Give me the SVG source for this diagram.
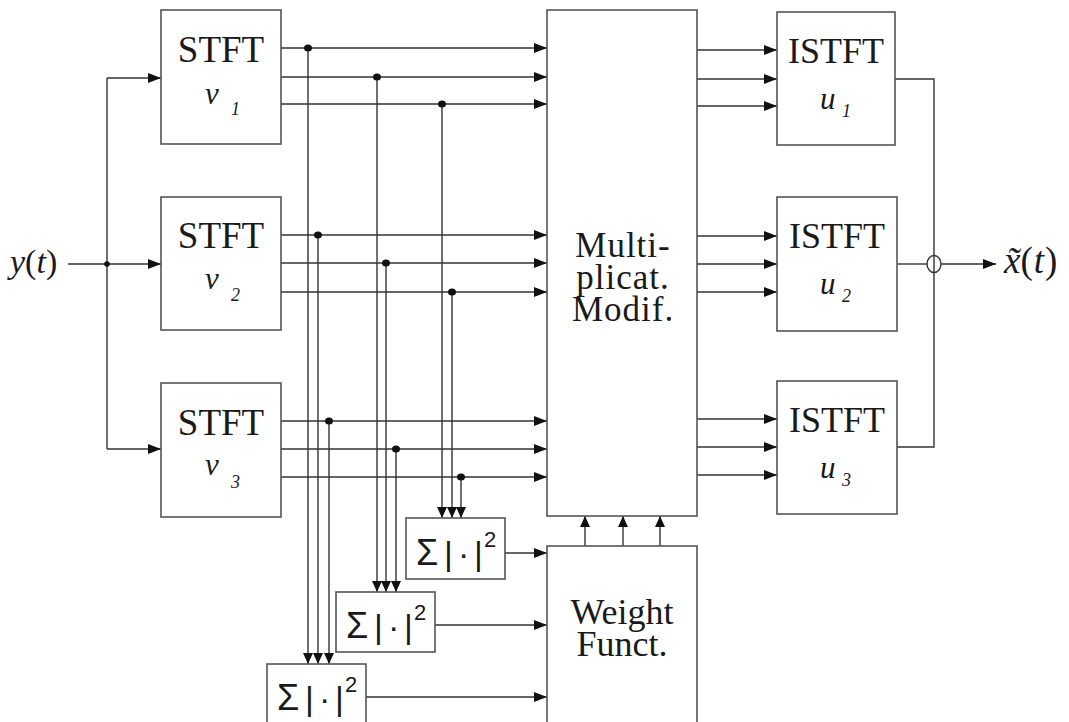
<svg xmlns="http://www.w3.org/2000/svg" width="1069" height="722" viewBox="0 0 1069 722">
<style>
.box{fill:#fff;stroke:#555;stroke-width:1.6}
.ln{fill:none;stroke:#333;stroke-width:1.4}
.ar{fill:none;stroke:#333;stroke-width:1.4;marker-end:url(#ah)}
.ad{fill:none;stroke:#333;stroke-width:1.4;marker-end:url(#ad)}
.dot{fill:#111}
.t{font-family:"Liberation Serif","Times New Roman",serif;fill:#1a1a1a}
.big{font-size:37px}
.mm{font-size:35px;letter-spacing:1px}
.it{font-style:italic}
.s{font-family:"Liberation Sans",Arial,sans-serif;fill:#1a1a1a;font-size:34px}
</style>
<defs>
<marker id="ah" markerUnits="userSpaceOnUse" markerWidth="14" markerHeight="12" refX="13" refY="5" orient="auto"><path d="M0,0 L13,5 L0,10 z" fill="#111"/></marker>
<marker id="ad" markerUnits="userSpaceOnUse" markerWidth="12" markerHeight="12" refX="11" refY="5" orient="auto"><path d="M0,0 L11,5 L0,10 z" fill="#111"/></marker>
</defs>

<g id="connectors">
<path class="ln" d="M68,264 H107"/>
<path class="ar" d="M107,264 H161"/>
<path class="ln" d="M107,78 V449"/>
<path class="ar" d="M107,78 H161"/>
<path class="ar" d="M107,449 H161"/>
<circle class="dot" cx="107" cy="264" r="2.8"/>
<path class="ar" d="M281,48 H547"/>
<path class="ar" d="M281,77 H547"/>
<path class="ar" d="M281,104 H547"/>
<path class="ar" d="M281,235 H547"/>
<path class="ar" d="M281,263 H547"/>
<path class="ar" d="M281,292 H547"/>
<path class="ar" d="M281,421 H547"/>
<path class="ar" d="M281,449 H547"/>
<path class="ar" d="M281,477 H547"/>
<path class="ad" d="M308,48 V664"/>
<path class="ad" d="M318,235 V664"/>
<path class="ad" d="M329,421 V664"/>
<path class="ad" d="M377,77 V592"/>
<path class="ad" d="M386,263 V592"/>
<path class="ad" d="M396,449 V592"/>
<path class="ad" d="M442,104 V518"/>
<path class="ad" d="M452,292 V518"/>
<path class="ad" d="M461,477 V518"/>
<ellipse class="dot" cx="308" cy="48" rx="4" ry="3.6"/>
<ellipse class="dot" cx="318" cy="235" rx="4" ry="3.6"/>
<ellipse class="dot" cx="329" cy="421" rx="4" ry="3.6"/>
<ellipse class="dot" cx="377" cy="77" rx="4" ry="3.6"/>
<ellipse class="dot" cx="386" cy="263" rx="4" ry="3.6"/>
<ellipse class="dot" cx="396" cy="449" rx="4" ry="3.6"/>
<ellipse class="dot" cx="442" cy="104" rx="4" ry="3.6"/>
<ellipse class="dot" cx="452" cy="292" rx="4" ry="3.6"/>
<ellipse class="dot" cx="461" cy="477" rx="4" ry="3.6"/>
<path class="ar" d="M505,553 H547"/>
<path class="ar" d="M435,625 H547"/>
<path class="ar" d="M366,697 H547"/>
<path class="ad" d="M585,546 V516"/>
<path class="ad" d="M623,546 V516"/>
<path class="ad" d="M660,546 V516"/>
<path class="ar" d="M697,50 H777"/>
<path class="ar" d="M697,79 H777"/>
<path class="ar" d="M697,106 H777"/>
<path class="ar" d="M697,236 H777"/>
<path class="ar" d="M697,264 H777"/>
<path class="ar" d="M697,292 H777"/>
<path class="ar" d="M697,419 H777"/>
<path class="ar" d="M697,447 H777"/>
<path class="ar" d="M697,475 H777"/>
<path class="ln" d="M895,79 H934 V447 H897"/>
<path class="ln" d="M897,264 H927"/>
<ellipse cx="934" cy="264" rx="7" ry="8.5" fill="none" stroke="#333" stroke-width="1.4"/>
<path class="ar" d="M941,264 H996"/>
</g>

<g id="input-label"><text class="t it" x="10" y="273" font-size="34">y<tspan font-style="normal">(</tspan>t<tspan font-style="normal">)</tspan></text></g>
<g id="output-label"><text class="t" x="1004" y="273" font-size="37"><tspan font-style="italic">x̃</tspan><tspan letter-spacing="1">(</tspan><tspan font-style="italic" letter-spacing="1">t</tspan>)</text></g>

<g id="stft1"><rect class="box" x="161" y="10" width="120" height="134"/><text class="t big" x="221" y="62" text-anchor="middle">STFT</text><text class="t it" x="205" y="104" font-size="31">v</text><text class="t it" x="231" y="115" font-size="18">1</text></g>
<g id="stft2"><rect class="box" x="161" y="197" width="120" height="133"/><text class="t big" x="221" y="248" text-anchor="middle">STFT</text><text class="t it" x="205" y="289" font-size="31">v</text><text class="t it" x="231" y="301" font-size="18">2</text></g>
<g id="stft3"><rect class="box" x="161" y="383" width="120" height="134"/><text class="t big" x="221" y="435" text-anchor="middle">STFT</text><text class="t it" x="205" y="475" font-size="31">v</text><text class="t it" x="231" y="488" font-size="18">3</text></g>

<g id="multiplicat"><rect class="box" x="547" y="10" width="150" height="506"/><text class="t mm" x="623" y="257" text-anchor="middle">Multi-</text><text class="t mm" x="623" y="289" text-anchor="middle">plicat.</text><text class="t mm" x="623" y="321" text-anchor="middle">Modif.</text></g>

<g id="weight"><rect class="box" x="547" y="546" width="150" height="190"/><text class="t" x="622" y="624" font-size="36" text-anchor="middle">Weight</text><text class="t" x="622" y="656" font-size="36" text-anchor="middle">Funct.</text></g>

<g id="sum1"><rect class="box" x="406" y="518" width="99" height="61"/><text class="s" y="565"><tspan x="416" font-size="36">Σ</tspan><tspan x="444">|</tspan><tspan x="458">·</tspan><tspan x="474">|</tspan><tspan x="484" y="547" font-size="22">2</tspan></text></g>
<g id="sum2"><rect class="box" x="336" y="592" width="99" height="60"/><text class="s" y="638"><tspan x="346" font-size="36">Σ</tspan><tspan x="374">|</tspan><tspan x="388">·</tspan><tspan x="404">|</tspan><tspan x="414" y="620" font-size="22">2</tspan></text></g>
<g id="sum3"><rect class="box" x="267" y="664" width="99" height="70"/><text class="s" y="710"><tspan x="277" font-size="36">Σ</tspan><tspan x="305">|</tspan><tspan x="319">·</tspan><tspan x="335">|</tspan><tspan x="345" y="692" font-size="22">2</tspan></text></g>

<g id="istft1"><rect class="box" x="777" y="12" width="118" height="133"/><text class="t" x="836" y="63" font-size="36" text-anchor="middle">ISTFT</text><text class="t it" x="820" y="109" font-size="31">u</text><text class="t it" x="842" y="117" font-size="18">1</text></g>
<g id="istft2"><rect class="box" x="777" y="197" width="120" height="134"/><text class="t" x="837" y="248" font-size="36" text-anchor="middle">ISTFT</text><text class="t it" x="820" y="294" font-size="31">u</text><text class="t it" x="842" y="302" font-size="18">2</text></g>
<g id="istft3"><rect class="box" x="777" y="381" width="120" height="133"/><text class="t" x="837" y="432" font-size="36" text-anchor="middle">ISTFT</text><text class="t it" x="820" y="478" font-size="31">u</text><text class="t it" x="842" y="486" font-size="18">3</text></g>
</svg>
